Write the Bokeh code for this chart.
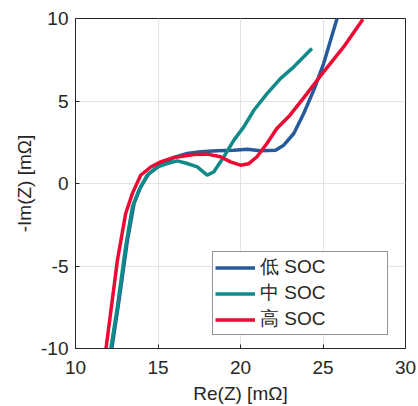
from bokeh.plotting import figure
from bokeh.models import FixedTicker, Legend, LegendItem, Range1d
from bokeh.embed import file_html
from bokeh.resources import INLINE

# Data
low_x = [12.2, 12.64, 13.15, 13.55, 13.95, 14.46, 15.16, 15.97, 16.77, 17.58, 18.59, 19.6, 20.4, 21.21, 22.12, 22.62, 23.23, 23.83, 24.44, 25.04, 25.85]
low_y = [-10.0, -7.07, -3.43, -1.21, -0.2, 0.61, 1.11, 1.58, 1.82, 1.92, 1.98, 2.02, 2.08, 1.98, 2.02, 2.32, 3.03, 4.24, 5.66, 7.27, 10.0]

mid_x = [12.14, 12.54, 13.04, 13.45, 13.85, 14.35, 14.96, 15.56, 16.17, 16.77, 17.38, 17.98, 18.39, 18.99, 19.6, 20.2, 20.81, 21.61, 22.42, 23.23, 24.33]
mid_y = [-10.0, -7.47, -3.84, -1.41, -0.4, 0.51, 1.01, 1.21, 1.37, 1.21, 1.01, 0.51, 0.71, 1.62, 2.63, 3.43, 4.44, 5.45, 6.36, 7.07, 8.18]

high_x = [11.85, 12.54, 13.04, 13.45, 13.95, 14.56, 15.16, 15.97, 17.18, 17.98, 18.79, 19.39, 20.0, 20.5, 21.0, 21.6, 22.2, 23.0, 24.03, 25.04, 26.25, 27.42]
high_y = [-10.0, -4.65, -1.82, -0.6, 0.5, 1.0, 1.31, 1.58, 1.76, 1.78, 1.62, 1.31, 1.11, 1.2, 1.62, 2.42, 3.33, 4.14, 5.45, 6.77, 8.28, 9.96]

series_names = ["低 SOC", "中 SOC", "高 SOC"]
x_ticks = [10, 15, 20, 25, 30]
y_ticks = [-10, -5, 0, 5, 10]
y_tick_labels = ["-10", "-5", "0", "5", "10"]
x_title = "Re(Z) [mΩ]"
y_title = "-Im(Z) [mΩ]"

colors = ["#275A9B", "#0F8A88", "#EC0A35"]
txt = "#262626"
font = "Liberation Sans, 'Noto Sans CJK SC'"

p = figure(width=416, height=406, output_backend="svg", toolbar_location=None,
           x_range=Range1d(x_ticks[0], x_ticks[-1]), y_range=Range1d(y_ticks[0], y_ticks[-1]),
           min_border_left=75, min_border_top=18, min_border_right=11, min_border_bottom=58)
p.outline_line_color = "#262626"
p.outline_line_width = 1

for ax in (p.xaxis[0], p.yaxis[0]):
    ax.major_label_text_font = font
    ax.major_label_text_font_size = "19px"
    ax.major_label_text_color = txt
    ax.axis_label_text_font = font
    ax.axis_label_text_font_size = "19px"
    ax.axis_label_text_font_style = "normal"
    ax.axis_label_text_color = txt
    ax.axis_line_color = txt
    ax.major_tick_line_color = txt
    ax.major_tick_in = 4
    ax.major_tick_out = 0
    ax.minor_tick_line_color = None

p.xaxis[0].ticker = FixedTicker(ticks=x_ticks)
p.yaxis[0].ticker = FixedTicker(ticks=y_ticks)
p.yaxis[0].major_label_overrides = {t: s for t, s in zip(y_ticks, y_tick_labels)}
p.xaxis[0].axis_label = x_title
p.yaxis[0].axis_label = y_title
p.xaxis[0].major_label_standoff = 12
p.xaxis[0].axis_label_standoff = 6
p.yaxis[0].major_label_standoff = 7
p.yaxis[0].axis_label_standoff = 3

p.xgrid.ticker = FixedTicker(ticks=x_ticks)
p.ygrid.ticker = FixedTicker(ticks=y_ticks)
p.grid.grid_line_color = "#e3e3e3"
p.grid.grid_line_width = 1

r1 = p.line(low_x, low_y, line_color=colors[0], line_width=3.5)
r2 = p.line(mid_x, mid_y, line_color=colors[1], line_width=3.5)
r3 = p.line(high_x, high_y, line_color=colors[2], line_width=3.5)

legend = Legend(items=[LegendItem(label=series_names[0], renderers=[r1]),
                       LegendItem(label=series_names[1], renderers=[r2]),
                       LegendItem(label=series_names[2], renderers=[r3])],
                location=(137, 13), label_text_font="Liberation Sans", label_text_font_size="19px",
                label_text_color=txt, label_height=25, label_width=125,
                glyph_height=25, glyph_width=40,
                spacing=0, padding=2, margin=0, label_standoff=5,
                border_line_color=txt, border_line_width=1, background_fill_alpha=1)
p.add_layout(legend, "center")

open("out.html", "w").write(file_html(p, INLINE))
